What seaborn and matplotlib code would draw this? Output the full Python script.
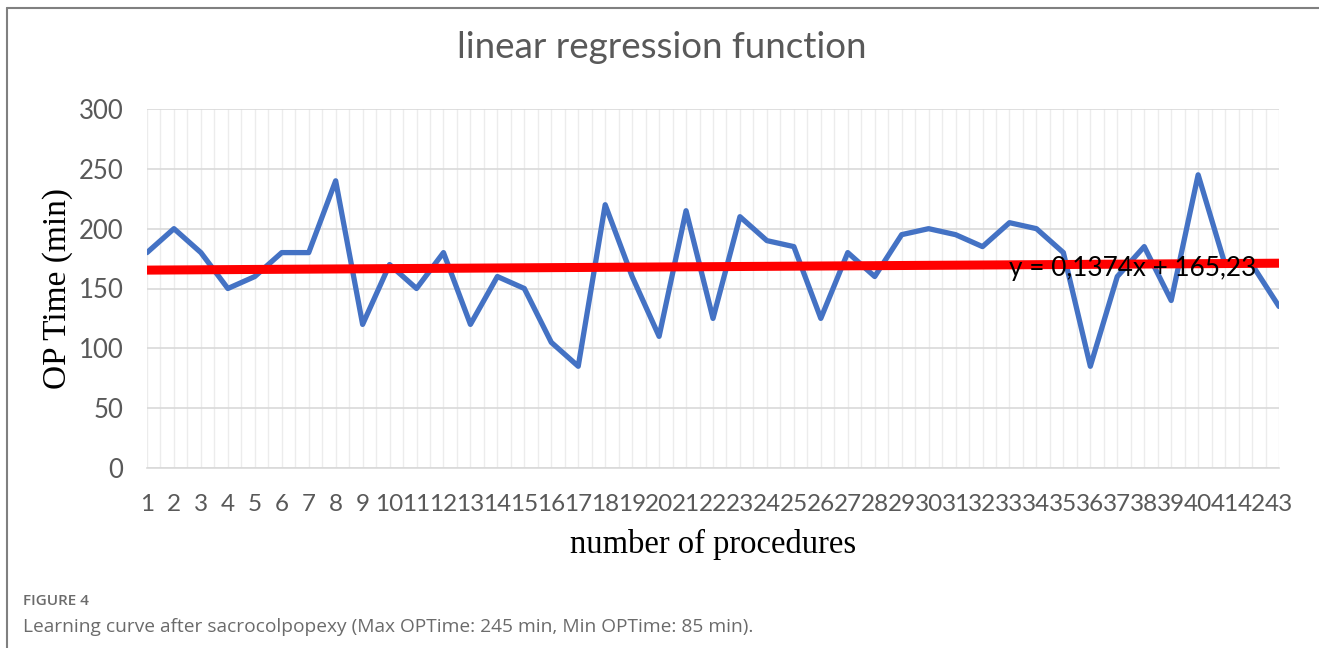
import numpy as np
import pandas as pd
import matplotlib.pyplot as plt
import seaborn as sns
from matplotlib.lines import Line2D
from matplotlib.ticker import MultipleLocator

# Data
procedures = list(range(1, 44))
op_time = [180, 200, 180, 150, 160, 180, 180, 240, 120, 170,
           150, 180, 120, 160, 150, 105, 85, 220, 160, 110,
           215, 125, 210, 190, 185, 125, 180, 160, 195, 200,
           195, 185, 205, 200, 180, 85, 160, 185, 140, 245,
           170, 170, 135]
slope = 0.1374
intercept = 165.23
equation = "y = 0,1374x + 165,23"

df = pd.DataFrame({'procedure': procedures, 'op_time': op_time})
df['trend'] = slope * df['procedure'] + intercept

sns.set_theme(style="white")
plt.rcParams['font.family'] = ['Lato', 'DejaVu Sans']

fig = plt.figure(figsize=(13.19, 6.48), dpi=100)
ax = fig.add_axes([147 / 1319, 1 - 468 / 648, (1279 - 147) / 1319, (468 - 109) / 648])

sns.lineplot(data=df, x='procedure', y='op_time', ax=ax, color='#4472C4',
             linewidth=3.8, solid_joinstyle='round', zorder=3)
sns.lineplot(data=df, x='procedure', y='trend', ax=ax, color='#FF0000',
             linewidth=6.5, solid_capstyle='butt', zorder=4)

ax.text(33, 167, equation, fontsize=18.8, color='black', va='center', ha='left',
        zorder=5)

ax.set_xlim(1, 43)
ax.set_ylim(0, 300)
ax.set_yticks(range(0, 301, 50))
ax.set_xticks(procedures)
ax.set_xticklabels([str(p) for p in procedures])
ax.xaxis.set_minor_locator(MultipleLocator(0.5))
ax.grid(axis='y', which='major', color='#d9d9d9', linewidth=1.2)
ax.grid(axis='x', which='minor', color='#ececec', linewidth=1.0)
ax.grid(axis='x', which='major', color='#ececec', linewidth=1.0)
ax.set_axisbelow(True)
for s in ['top', 'right', 'left']:
    ax.spines[s].set_visible(False)
ax.spines['bottom'].set_color('#d9d9d9')
ax.spines['bottom'].set_linewidth(1.2)

ax.tick_params(axis='both', which='both', length=0, labelcolor='#595959')
ax.tick_params(axis='x', labelsize=17.5, pad=19)
ax.tick_params(axis='y', labelsize=18.5, pad=17)

ax.set_xlabel('number of procedures', family='Liberation Serif', fontsize=23.5,
              color='black', labelpad=10)
ax.set_ylabel('OP Time (min)', family='Liberation Serif', fontsize=24,
              color='black', labelpad=4)

fig.text(662 / 1319, 1 - 48 / 648, 'linear regression function', fontsize=26.5,
         color='#595959', ha='center', va='center')

# chart frame (open at right and bottom as cropped)
fig.add_artist(Line2D([7 / 1319, 7 / 1319], [0, 1 - 8 / 648], transform=fig.transFigure,
                      color='#808080', linewidth=1.5))
fig.add_artist(Line2D([7 / 1319, 1], [1 - 8 / 648, 1 - 8 / 648], transform=fig.transFigure,
                      color='#808080', linewidth=1.5))

fig.text(23 / 1319, 1 - 601 / 648, 'FIGURE 4', fontsize=11, color='#6b6b6b',
         family='Open Sans', weight='semibold', va='center')
fig.text(23 / 1319, 1 - 627 / 648,
         'Learning curve after sacrocolpopexy (Max OPTime: 245 min, Min OPTime: 85 min).',
         fontsize=13.8, color='#6b6b6b', family='Open Sans', va='center')

fig.savefig('out.png', dpi=100)
